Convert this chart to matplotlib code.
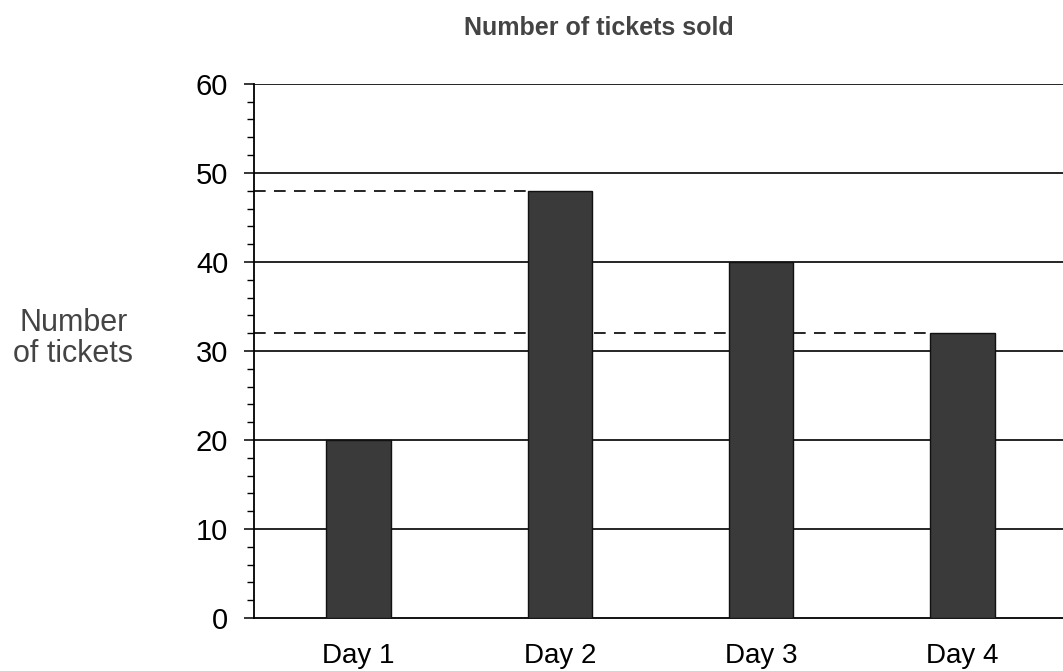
import matplotlib
matplotlib.use("Agg")
import matplotlib.pyplot as plt
from matplotlib.ticker import MultipleLocator

days = ["Day 1", "Day 2", "Day 3", "Day 4"]
tickets = [20, 48, 40, 32]
# guide lines: (value, index of the bar they run to)
guides = [(48, 1), (32, 3)]
y_ticks = [0, 10, 20, 30, 40, 50, 60]

plt.rcParams["font.family"] = ["Liberation Sans", "DejaVu Sans"]

fig = plt.figure(figsize=(10.63, 6.71), dpi=100)
ax = fig.add_axes([0.239, 0.079, 0.761, 0.796])

bar_w = 0.32
x = list(range(len(days)))
ax.bar(x, tickets, width=bar_w, color="#3a3a3a", edgecolor="#111111",
       linewidth=1.0, zorder=3)

# horizontal grid lines at every major tick
for v in y_ticks[1:]:
    ax.axhline(v, color="black", linewidth=1.2, zorder=1)

# dashed lines from the axis across to the matching bar
for val, idx in guides:
    ax.plot([-0.52, idx - bar_w / 2], [val, val], color="black",
            linewidth=1.2, dashes=(7, 5), zorder=2)

ax.set_xlim(-0.52, 3.5)
ax.set_ylim(0, 60)
ax.set_xticks(x)
ax.set_xticklabels(days, fontsize=20)
ax.set_yticks(y_ticks)
ax.set_yticklabels([str(v) for v in y_ticks], fontsize=21)
ax.yaxis.set_minor_locator(MultipleLocator(2))

ax.tick_params(axis="x", length=0, pad=18)
ax.tick_params(axis="y", which="major", direction="out", length=7.5,
               width=1.1, pad=11)
ax.tick_params(axis="y", which="minor", direction="out", length=5,
               width=1.0)

for side in ("top", "right"):
    ax.spines[side].set_visible(False)
ax.spines["left"].set_linewidth(1.3)
ax.spines["bottom"].set_linewidth(1.3)

fig.text(0.563, 0.958, "Number of tickets sold", ha="center", va="center",
         fontsize=18, fontweight="bold", color="#444444")
fig.text(0.069, 0.496, "Number\nof tickets", ha="center", va="center",
         fontsize=22, color="#444444", linespacing=1.05)

fig.savefig("out.png", dpi=100)
